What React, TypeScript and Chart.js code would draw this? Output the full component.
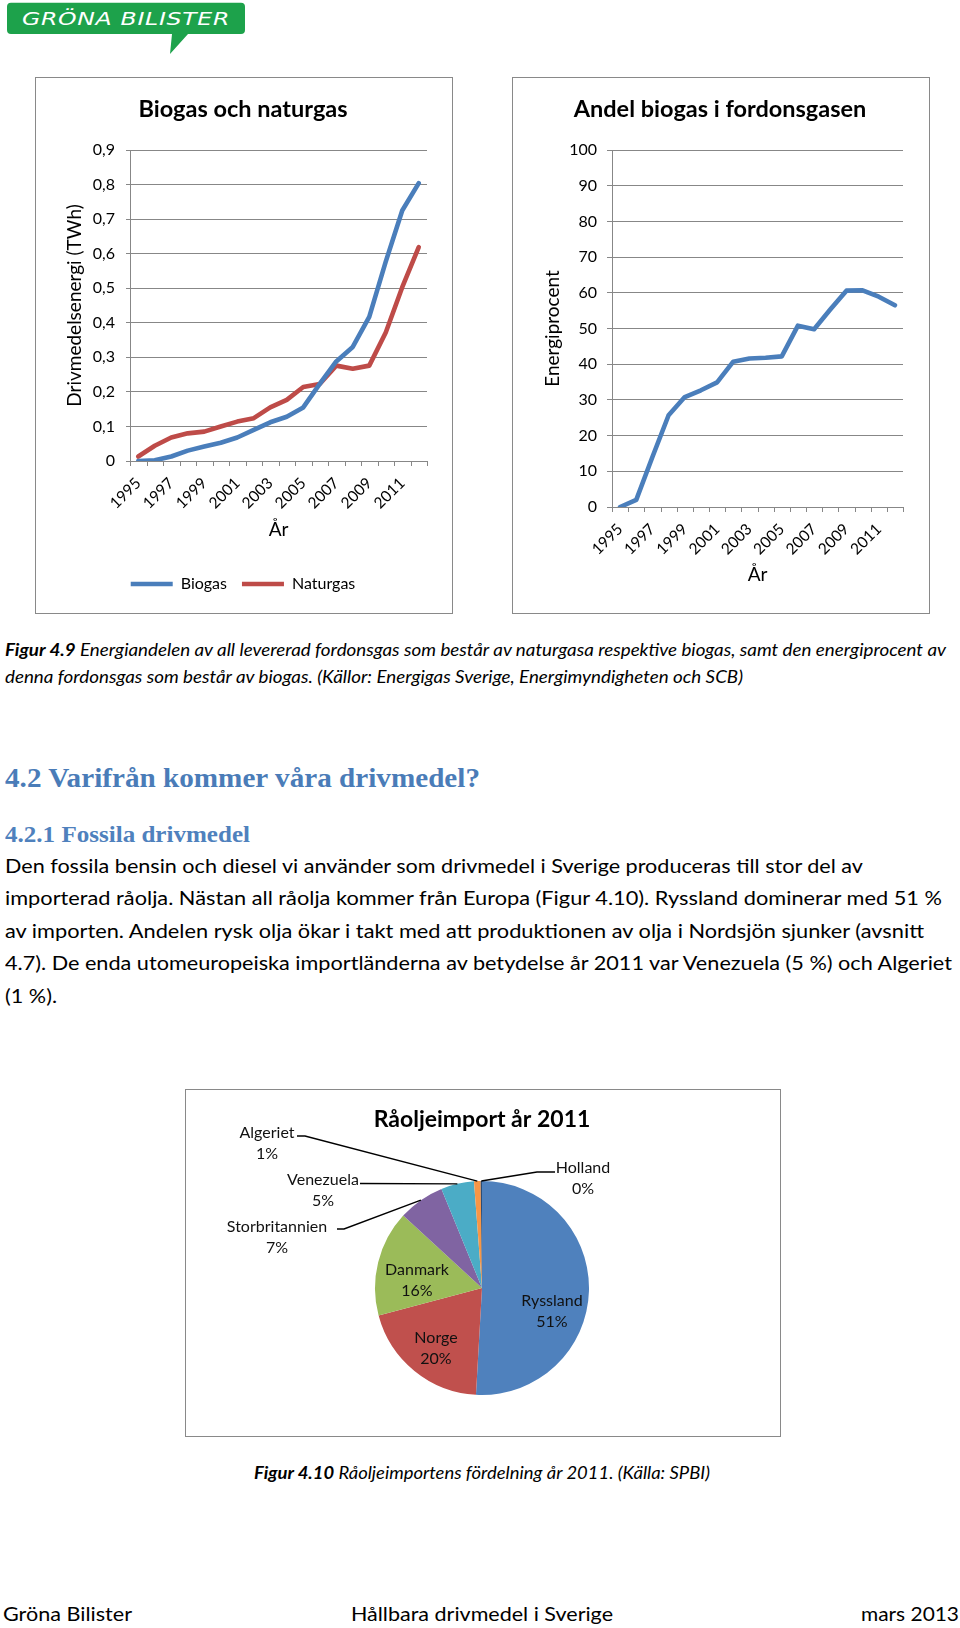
import React, { useEffect, useLayoutEffect, useRef } from 'react';
import { Chart, registerables } from 'chart.js';

Chart.register(...registerables);

const FONT = 'Lato, "Open Sans", sans-serif';
const SERIF = '"Liberation Serif", "DejaVu Serif", serif';

// ---------- data ----------
const YEARS = ['1995', '1996', '1997', '1998', '1999', '2000', '2001', '2002', '2003', '2004', '2005', '2006', '2007', '2008', '2009', '2010', '2011', '2012'];
const BIOGAS_TWH = [0.0, 0.002, 0.013, 0.03, 0.042, 0.053, 0.068, 0.09, 0.112, 0.128, 0.155, 0.223, 0.288, 0.33, 0.417, 0.577, 0.725, 0.804];
const NATURGAS_TWH = [0.013, 0.044, 0.068, 0.08, 0.085, 0.1, 0.114, 0.124, 0.155, 0.177, 0.214, 0.223, 0.276, 0.267, 0.276, 0.372, 0.503, 0.619];
const BIOGAS_SHARE_PCT = [0, 2, 14, 25.7, 30.8, 32.7, 34.9, 40.7, 41.6, 41.8, 42.2, 50.8, 49.8, 55.3, 60.6, 60.7, 58.9, 56.5];
const TWH_AXIS = { min: 0, max: 0.9, step: 0.1 };
const PCT_AXIS = { min: 0, max: 100, step: 10 };

const PIE_TITLE = 'Råoljeimport år 2011';
const PIE_LABELS = ['Ryssland', 'Norge', 'Danmark', 'Storbritannien', 'Venezuela', 'Algeriet', 'Holland'];
const PIE_VALUES = [51, 20, 16, 7, 5, 1, 0.2];
const PIE_COLORS = ['#4F81BD', '#C0504D', '#9BBB59', '#8064A2', '#4BACC6', '#F79646', '#2C4D75'];
// label anchor offsets from the pie centre (first text line), and optional leader line start + stub
const PIE_LABEL_POS = [[70, 13], [-46, 50], [-65, -18], [-205, -61], [-159, -108], [-215, -155], [101, -120]];
const PIE_LEADERS: (number[] | null)[] = [null, null, null, [-145, -59, 7], [-122, -104.5, 0], [-185, -152, 8], [73, -116, -18]];

const GRID = '#878787';
const BLUE = '#4A7EBB';
const RED = '#BE4B48';

// ---------- helpers ----------
const catTicks = {
  id: 'catTicks',
  afterDraw(chart: any) {
    const xs = chart.scales.x;
    const n = chart.data.labels.length;
    const ctx = chart.ctx;
    ctx.save();
    ctx.strokeStyle = GRID;
    ctx.lineWidth = 1;
    ctx.beginPath();
    for (let i = 0; i <= n; i++) {
      let x: number;
      if (i === 0) x = xs.left;
      else if (i === n) x = xs.right;
      else x = (xs.getPixelForValue(i - 1) + xs.getPixelForValue(i)) / 2;
      x = Math.round(x) + 0.5;
      ctx.moveTo(x, xs.top);
      ctx.lineTo(x, xs.top + 5);
    }
    ctx.stroke();
    ctx.restore();
  },
};

const pieLabels = {
  id: 'pieLabels',
  afterDatasetsDraw(chart: any) {
    const meta = chart.getDatasetMeta(0);
    const ctx = chart.ctx;
    const a0 = meta.data[0];
    const cx = a0.x;
    const cy = a0.y;
    const r = a0.outerRadius;
    const total = PIE_VALUES.reduce((s, v) => s + v, 0);
    ctx.save();
    // title
    ctx.font = `bold 23px ${FONT}`;
    ctx.fillStyle = '#000';
    ctx.textAlign = 'center';
    ctx.textBaseline = 'middle';
    ctx.fillText(PIE_TITLE, cx, 30);
    ctx.font = `16px ${FONT}`;
    ctx.fillStyle = '#111';
    ctx.strokeStyle = '#000';
    ctx.lineWidth = 1.4;
    PIE_LABELS.forEach((name, i) => {
      const p = PIE_LABEL_POS[i];
      const pct = Math.round((PIE_VALUES[i] / total) * 100) + '%';
      ctx.fillText(name, cx + p[0], cy + p[1]);
      ctx.fillText(pct, cx + p[0], cy + p[1] + 21);
      const L = PIE_LEADERS[i];
      if (L) {
        const arc = meta.data[i];
        const mid = (arc.startAngle + arc.endAngle) / 2;
        const ex = cx + r * Math.cos(mid);
        const ey = cy + r * Math.sin(mid);
        ctx.beginPath();
        ctx.moveTo(cx + L[0], cy + L[1]);
        ctx.lineTo(cx + L[0] + L[2], cy + L[1]);
        ctx.lineTo(ex, ey);
        ctx.stroke();
      }
    });
    ctx.restore();
  },
};

const tickFont = { family: FONT, size: 16 };
const xTickFont = { family: FONT, size: 15.5 };
const titleFont = { family: FONT, size: 23.5, weight: 'bold' };
const titlePad = { top: 17.4, bottom: 26.4 };

function leftConfig(): any {
  return {
    type: 'line',
    data: {
      labels: YEARS,
      datasets: [
        { label: 'Biogas', data: BIOGAS_TWH, borderColor: BLUE, backgroundColor: BLUE, borderWidth: 4.6, pointRadius: 0, tension: 0, borderJoinStyle: 'round', borderCapStyle: 'round' },
        { label: 'Naturgas', data: NATURGAS_TWH, borderColor: RED, backgroundColor: RED, borderWidth: 4.6, pointRadius: 0, tension: 0, borderJoinStyle: 'round', borderCapStyle: 'round' },
      ],
    },
    options: {
      animation: false,
      responsive: false,
      events: [],
      layout: { padding: { left: 23, right: 25, top: 0, bottom: 11 } },
      plugins: {
        title: { display: true, text: 'Biogas och naturgas', color: '#000', font: titleFont, padding: titlePad },
        legend: {
          display: true,
          position: 'bottom',
          labels: { usePointStyle: true, pointStyle: 'line', pointStyleWidth: 42, padding: 15, color: '#000', font: { family: FONT, size: 16 } },
        },
        tooltip: { enabled: false },
      },
      scales: {
        x: {
          type: 'category',
          offset: true,
          grid: { display: true, drawOnChartArea: false, drawTicks: true, tickLength: 5, color: 'rgba(0,0,0,0)' },
          border: { display: true, color: GRID, width: 1 },
          ticks: { autoSkip: false, minRotation: 45, maxRotation: 45, padding: 8, color: '#000', font: xTickFont, callback: (_v: any, i: number) => (i % 2 === 0 ? YEARS[i] : '') },
          title: { display: true, text: 'År', color: '#000', font: { family: FONT, size: 19 }, padding: { top: 0, bottom: 19.6 } },
          afterFit: (s: any) => { s.height = 100; },
        },
        y: {
          min: TWH_AXIS.min,
          max: TWH_AXIS.max,
          grid: { color: GRID, tickLength: 4, lineWidth: 1 },
          border: { display: true, color: GRID, width: 1 },
          ticks: { stepSize: TWH_AXIS.step, padding: 11, color: '#000', font: tickFont, callback: (v: any) => (Number(v) === 0 ? '0' : Number(v).toFixed(1).replace('.', ',')) },
          title: { display: true, text: 'Drivmedelsenergi (TWh)', color: '#000', font: { family: FONT, size: 19 }, padding: { top: 4.6, bottom: 0 } },
          afterFit: (s: any) => { s.width = 71; },
        },
      },
    },
    plugins: [catTicks],
  };
}

function rightConfig(): any {
  return {
    type: 'line',
    data: {
      labels: YEARS,
      datasets: [
        { label: 'Energiprocent', data: BIOGAS_SHARE_PCT, borderColor: BLUE, backgroundColor: BLUE, borderWidth: 4.6, pointRadius: 0, tension: 0, borderJoinStyle: 'round', borderCapStyle: 'round' },
      ],
    },
    options: {
      animation: false,
      responsive: false,
      events: [],
      layout: { padding: { left: 24, right: 26, top: 0, bottom: 6 } },
      plugins: {
        title: { display: true, text: 'Andel biogas i fordonsgasen', color: '#000', font: titleFont, padding: titlePad },
        legend: { display: false },
        tooltip: { enabled: false },
      },
      scales: {
        x: {
          type: 'category',
          offset: true,
          grid: { display: true, drawOnChartArea: false, drawTicks: true, tickLength: 5, color: 'rgba(0,0,0,0)' },
          border: { display: true, color: GRID, width: 1 },
          ticks: { autoSkip: false, minRotation: 45, maxRotation: 45, padding: 8, color: '#000', font: xTickFont, callback: (_v: any, i: number) => (i % 2 === 0 ? YEARS[i] : '') },
          title: { display: true, text: 'År', color: '#000', font: { family: FONT, size: 19 }, padding: { top: 0, bottom: 20.6 } },
          afterFit: (s: any) => { s.height = 100; },
        },
        y: {
          min: PCT_AXIS.min,
          max: PCT_AXIS.max,
          grid: { color: GRID, tickLength: 5, lineWidth: 1 },
          border: { display: true, color: GRID, width: 1 },
          ticks: { stepSize: PCT_AXIS.step, padding: 10, color: '#000', font: tickFont },
          title: { display: true, text: 'Energiprocent', color: '#000', font: { family: FONT, size: 19 }, padding: { top: 4.6, bottom: 0 } },
          afterFit: (s: any) => { s.width = 75; },
        },
      },
    },
    plugins: [catTicks],
  };
}

function pieConfig(): any {
  return {
    type: 'pie',
    data: {
      labels: PIE_LABELS,
      datasets: [{ data: PIE_VALUES, backgroundColor: PIE_COLORS, borderWidth: 0, hoverOffset: 0, offset: 0 }],
    },
    options: {
      animation: false,
      responsive: false,
      events: [],
      layout: { padding: { left: 189, right: 191, top: 91, bottom: 41 } },
      plugins: {
        legend: { display: false },
        tooltip: { enabled: false },
        title: { display: false },
      },
    },
    plugins: [pieLabels],
  };
}

function ChartBox({ left, top, width, height, config }: any) {
  const ref = useRef<HTMLCanvasElement>(null);
  useEffect(() => {
    const chart = new Chart(ref.current as HTMLCanvasElement, config());
    return () => chart.destroy();
  }, []);
  return (
    <div style={{ position: 'absolute', left, top, width: width + 2, height: height + 2, border: '1px solid #898989', boxSizing: 'border-box', background: '#fff' }}>
      <canvas ref={ref} width={width} height={height} style={{ display: 'block', width, height }} />
    </div>
  );
}

const ASC: Record<string, number> = { sans: 0.87, serif: 0.84, dv: 0.85 };

function FitText({ x, base, w, size, kind = 'sans', weight = 'normal', italic = false, color = '#000', spacing = 0, children }: any) {
  const ref = useRef<HTMLSpanElement>(null);
  useLayoutEffect(() => {
    const el = ref.current;
    if (!el || !w) return;
    el.style.transform = 'none';
    const nat = el.getBoundingClientRect().width;
    if (nat > 0) el.style.transform = `scaleX(${w / nat})`;
  }, []);
  const family = kind === 'serif' ? SERIF : kind === 'dv' ? '"DejaVu Sans", sans-serif' : FONT;
  return (
    <span
      ref={ref}
      style={{
        position: 'absolute',
        left: x,
        top: base - ASC[kind] * size,
        fontSize: size,
        lineHeight: `${size}px`,
        whiteSpace: 'pre',
        fontFamily: family,
        fontWeight: weight,
        fontStyle: italic ? 'italic' : 'normal',
        letterSpacing: spacing,
        color,
        transformOrigin: '0 0',
      }}
    >
      {children}
    </span>
  );
}

export default function App() {
  const bodySize = 18.5;
  const capSize = 16.5;
  return (
    <div style={{ position: 'absolute', left: 0, top: 0, width: 960, height: 1628, background: '#fff', overflow: 'hidden', fontFamily: FONT }}>
      {/* logo */}
      <svg style={{ position: 'absolute', left: 0, top: 0 }} width={260} height={70}>
        <path d="M 11 2.7 H 241 Q 245 2.7 245 6.7 V 30 Q 245 34 241 34 H 188 L 170 54 L 172 34 H 11 Q 7 34 7 30 V 6.7 Q 7 2.7 11 2.7 Z" fill="#1DA24B" />
      </svg>
      <FitText x={22} base={25} w={208} size={17} kind="dv" italic color="#fff" spacing={0.5}>GRÖNA BILISTER</FitText>

      <ChartBox left={35} top={77} width={416} height={535} config={leftConfig} />
      <ChartBox left={512} top={77} width={416} height={535} config={rightConfig} />

      <FitText x={5} base={656.5} w={941} size={capSize} italic>
        <b>Figur 4.9</b> Energiandelen av all levererad fordonsgas som består av naturgasa respektive biogas, samt den energiprocent av
      </FitText>
      <FitText x={5} base={683.5} w={738} size={capSize} italic>
        denna fordonsgas som består av biogas. (Källor: Energigas Sverige, Energimyndigheten och SCB)
      </FitText>

      <FitText x={5} base={788} w={475} size={27} kind="serif" weight="bold" color="#4A7CB8">4.2 Varifrån kommer våra drivmedel?</FitText>
      <FitText x={5} base={842} w={245} size={23} kind="serif" weight="bold" color="#4F81BD">4.2.1 Fossila drivmedel</FitText>

      <FitText x={5} base={872.7} w={858} size={bodySize}>Den fossila bensin och diesel vi använder som drivmedel i Sverige produceras till stor del av</FitText>
      <FitText x={5} base={905.3} w={937} size={bodySize}>importerad råolja. Nästan all råolja kommer från Europa (Figur 4.10). Ryssland dominerar med 51 %</FitText>
      <FitText x={5} base={937.9} w={919} size={bodySize}>av importen. Andelen rysk olja ökar i takt med att produktionen av olja i Nordsjön sjunker (avsnitt</FitText>
      <FitText x={5} base={970.5} w={947} size={bodySize}>4.7). De enda utomeuropeiska importländerna av betydelse år 2011 var Venezuela (5 %) och Algeriet</FitText>
      <FitText x={5} base={1003} w={52} size={bodySize}>(1 %).</FitText>

      <ChartBox left={185} top={1089} width={594} height={346} config={pieConfig} />

      <FitText x={254} base={1479} w={456} size={capSize} italic>
        <b>Figur 4.10</b> Råoljeimportens fördelning år 2011. (Källa: SPBI)
      </FitText>

      <FitText x={3} base={1620} w={129} size={20}>Gröna Bilister</FitText>
      <FitText x={351} base={1620} w={262} size={20}>Hållbara drivmedel i Sverige</FitText>
      <FitText x={861} base={1620} w={98} size={20}>mars 2013</FitText>
    </div>
  );
}
